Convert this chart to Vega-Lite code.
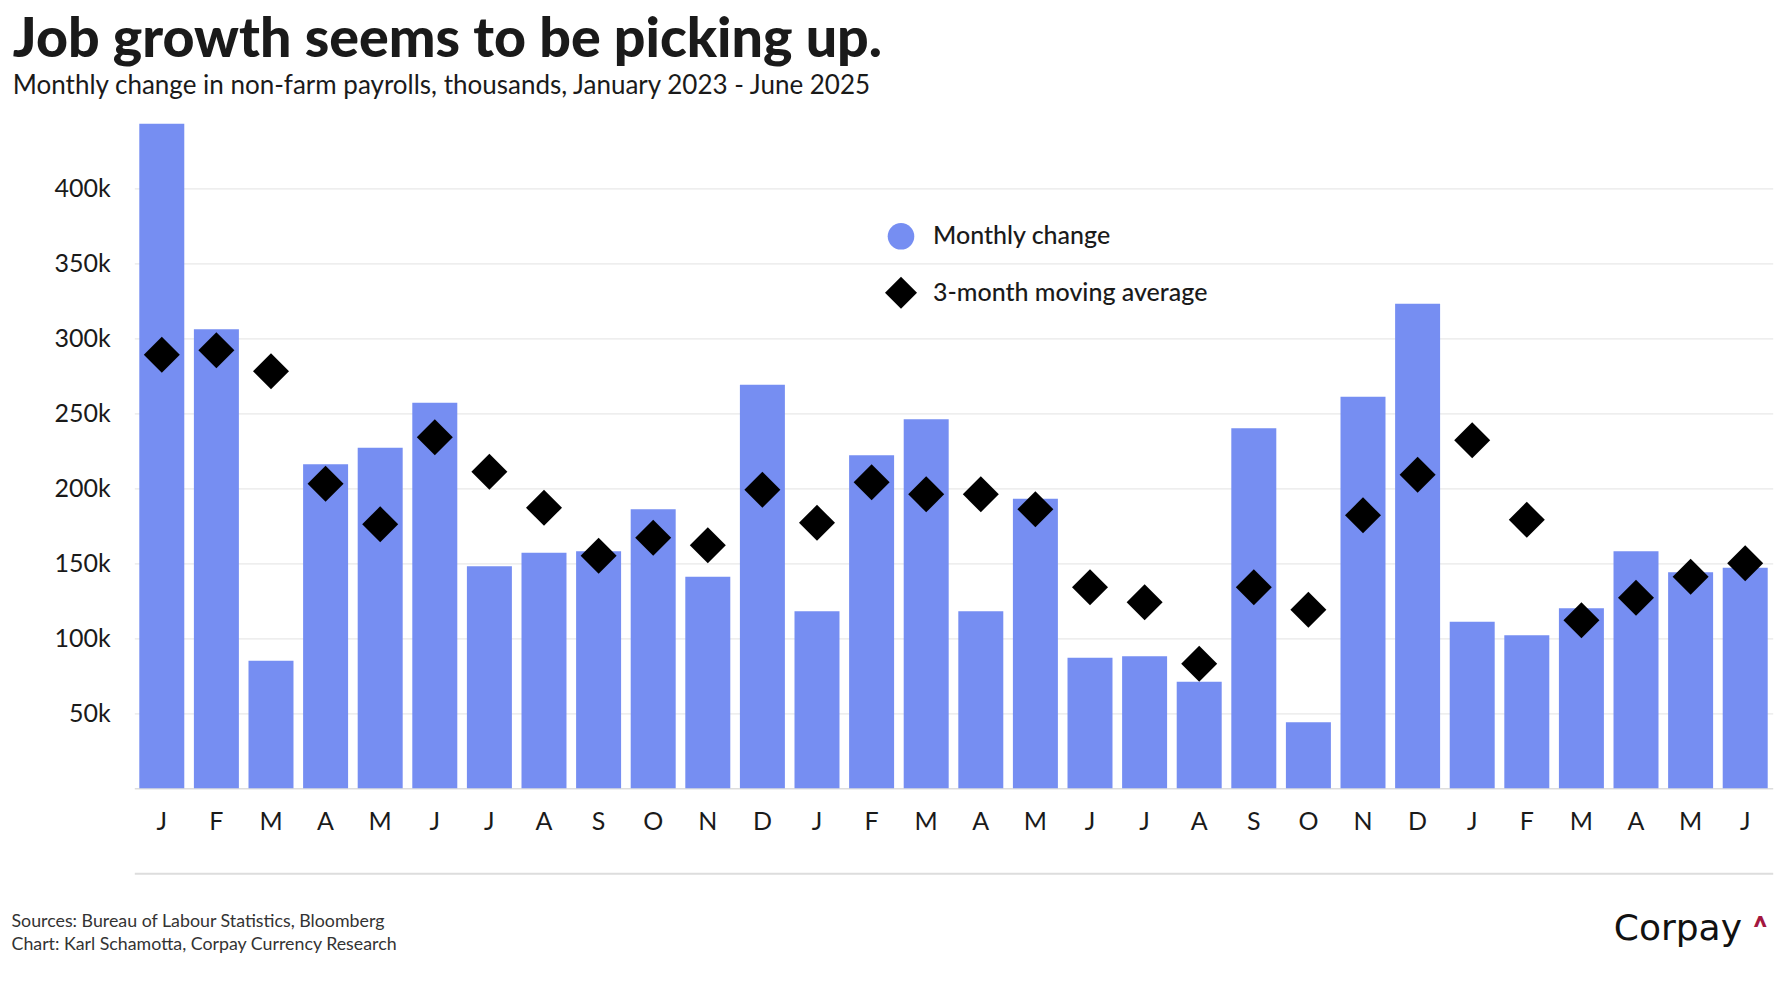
{
  "$schema": "https://vega.github.io/schema/vega-lite/v6.json",
  "autosize": {"type": "none"},
  "width": 1638.4,
  "height": 675,
  "padding": {"left": 134.3, "top": 113.3, "right": 9.3, "bottom": 211.7},
  "background": "white",
  "config": {
    "font": "Lato",
    "view": {"stroke": null},
    "legend": {"padding": 0}
  },
  "title": {
    "text": "Job growth seems to be picking up.",
    "subtitle": "Monthly change in non-farm payrolls, thousands, January 2023 - June 2025",
    "anchor": "start",
    "frame": "group",
    "dx": -121.5,
    "offset": 14,
    "font": "Lato",
    "fontSize": 55.5,
    "fontWeight": 900,
    "color": "#1a1a1a",
    "subtitleFont": "Lato",
    "subtitleFontSize": 26,
    "subtitleColor": "#1a1a1a",
    "subtitlePadding": 5
  },
  "datasets": {
    "bars": [
      {"month": "2023-01", "value": 443, "series": "Monthly change"},
      {"month": "2023-02", "value": 306, "series": "Monthly change"},
      {"month": "2023-03", "value": 85, "series": "Monthly change"},
      {"month": "2023-04", "value": 216, "series": "Monthly change"},
      {"month": "2023-05", "value": 227, "series": "Monthly change"},
      {"month": "2023-06", "value": 257, "series": "Monthly change"},
      {"month": "2023-07", "value": 148, "series": "Monthly change"},
      {"month": "2023-08", "value": 157, "series": "Monthly change"},
      {"month": "2023-09", "value": 158, "series": "Monthly change"},
      {"month": "2023-10", "value": 186, "series": "Monthly change"},
      {"month": "2023-11", "value": 141, "series": "Monthly change"},
      {"month": "2023-12", "value": 269, "series": "Monthly change"},
      {"month": "2024-01", "value": 118, "series": "Monthly change"},
      {"month": "2024-02", "value": 222, "series": "Monthly change"},
      {"month": "2024-03", "value": 246, "series": "Monthly change"},
      {"month": "2024-04", "value": 118, "series": "Monthly change"},
      {"month": "2024-05", "value": 193, "series": "Monthly change"},
      {"month": "2024-06", "value": 87, "series": "Monthly change"},
      {"month": "2024-07", "value": 88, "series": "Monthly change"},
      {"month": "2024-08", "value": 71, "series": "Monthly change"},
      {"month": "2024-09", "value": 240, "series": "Monthly change"},
      {"month": "2024-10", "value": 44, "series": "Monthly change"},
      {"month": "2024-11", "value": 261, "series": "Monthly change"},
      {"month": "2024-12", "value": 323, "series": "Monthly change"},
      {"month": "2025-01", "value": 111, "series": "Monthly change"},
      {"month": "2025-02", "value": 102, "series": "Monthly change"},
      {"month": "2025-03", "value": 120, "series": "Monthly change"},
      {"month": "2025-04", "value": 158, "series": "Monthly change"},
      {"month": "2025-05", "value": 144, "series": "Monthly change"},
      {"month": "2025-06", "value": 147, "series": "Monthly change"}
    ],
    "avg": [
      {"month": "2023-01", "value": 289, "series": "3-month moving average"},
      {"month": "2023-02", "value": 292, "series": "3-month moving average"},
      {"month": "2023-03", "value": 278, "series": "3-month moving average"},
      {"month": "2023-04", "value": 203, "series": "3-month moving average"},
      {"month": "2023-05", "value": 176, "series": "3-month moving average"},
      {"month": "2023-06", "value": 234, "series": "3-month moving average"},
      {"month": "2023-07", "value": 211, "series": "3-month moving average"},
      {"month": "2023-08", "value": 187, "series": "3-month moving average"},
      {"month": "2023-09", "value": 155, "series": "3-month moving average"},
      {"month": "2023-10", "value": 167, "series": "3-month moving average"},
      {"month": "2023-11", "value": 162, "series": "3-month moving average"},
      {"month": "2023-12", "value": 199, "series": "3-month moving average"},
      {"month": "2024-01", "value": 177, "series": "3-month moving average"},
      {"month": "2024-02", "value": 204, "series": "3-month moving average"},
      {"month": "2024-03", "value": 196, "series": "3-month moving average"},
      {"month": "2024-04", "value": 196, "series": "3-month moving average"},
      {"month": "2024-05", "value": 186, "series": "3-month moving average"},
      {"month": "2024-06", "value": 134, "series": "3-month moving average"},
      {"month": "2024-07", "value": 124, "series": "3-month moving average"},
      {"month": "2024-08", "value": 83, "series": "3-month moving average"},
      {"month": "2024-09", "value": 134, "series": "3-month moving average"},
      {"month": "2024-10", "value": 119, "series": "3-month moving average"},
      {"month": "2024-11", "value": 182, "series": "3-month moving average"},
      {"month": "2024-12", "value": 209, "series": "3-month moving average"},
      {"month": "2025-01", "value": 232, "series": "3-month moving average"},
      {"month": "2025-02", "value": 179, "series": "3-month moving average"},
      {"month": "2025-03", "value": 112, "series": "3-month moving average"},
      {"month": "2025-04", "value": 127, "series": "3-month moving average"},
      {"month": "2025-05", "value": 141, "series": "3-month moving average"},
      {"month": "2025-06", "value": 150, "series": "3-month moving average"}
    ]
  },
  "resolve": {"axis": {"x": "independent", "y": "independent"}},
  "layer": [
    {
      "data": {"name": "bars"},
      "mark": {"type": "bar"},
      "encoding": {
        "x": {
          "field": "month", "type": "ordinal",
          "scale": {"paddingInner": 0.176, "paddingOuter": 0.0915},
          "axis": {
            "orient": "bottom",
            "labelExpr": "substring('JFMAMJJASOND', toNumber(slice(datum.value, 5)) - 1, toNumber(slice(datum.value, 5)))",
            "labelAngle": 0,
            "labelFont": "Lato",
            "labelFontSize": 25,
            "labelColor": "#1a1a1a",
            "labelPadding": 21,
            "ticks": false,
            "domain": true,
            "domainColor": "#dddddd",
            "domainWidth": 1.5,
            "grid": false,
            "title": null
          }
        },
        "y": {
          "field": "value", "type": "quantitative",
          "scale": {"domain": [0, 450], "nice": false},
          "axis": {
            "values": [50, 100, 150, 200, 250, 300, 350, 400],
            "labelExpr": "datum.value + 'k'",
            "labelFont": "Lato",
            "labelFontSize": 25,
            "labelColor": "#1a1a1a",
            "labelPadding": 24,
            "ticks": false,
            "domain": false,
            "grid": true,
            "gridColor": "#e8e8e8",
            "gridWidth": 1.2,
            "title": "Corpay",
            "titleAngle": 0,
            "titleAlign": "left",
            "titleBaseline": "alphabetic",
            "titleX": 1479,
            "titleY": 826,
            "titleFont": "DejaVu Sans",
            "titleFontSize": 36,
            "titleFontWeight": "normal",
            "titleColor": "#111111"
          }
        },
        "color": {
          "field": "series", "type": "nominal",
          "scale": {"domain": ["Monthly change", "3-month moving average"], "range": ["#768ef2", "#000000"]},
          "legend": {
            "title": null,
            "orient": "none",
            "legendX": 750.7,
            "legendY": 107,
            "symbolSize": 1024,
            "labelFont": "Lato",
            "labelFontSize": 25,
            "labelFontWeight": 500,
            "labelColor": "#1a1a1a",
            "labelOffset": 16,
            "labelLimit": 0,
            "rowPadding": 26.5,
            "symbolStrokeWidth": 0,
            "encode": {"symbols": {"update": {"size": {"signal": "datum.value === 'Monthly change' ? 707 : 1024"}}}}
          }
        }
      }
    },
    {
      "data": {"name": "avg"},
      "mark": {"type": "point", "filled": true, "size": 1296, "opacity": 1, "strokeWidth": 0},
      "encoding": {
        "x": {
          "field": "month", "type": "ordinal",
          "axis": {
            "orient": "bottom",
            "offset": 85,
            "labels": false,
            "ticks": false,
            "grid": false,
            "domain": true,
            "domainColor": "#dddddd",
            "domainWidth": 2,
            "title": ["Sources: Bureau of Labour Statistics, Bloomberg", "Chart: Karl Schamotta, Corpay Currency Research"],
            "titleAnchor": "start",
            "titleAlign": "left",
            "titleBaseline": "alphabetic",
            "titleX": -123.3,
            "titleY": 53,
            "titleLineHeight": 23.5,
            "titleFont": "Lato",
            "titleFontSize": 17.8,
            "titleFontWeight": "normal",
            "titleColor": "#333333"
          }
        },
        "y": {
          "field": "value", "type": "quantitative",
          "axis": {
            "orient": "right",
            "labels": false,
            "ticks": false,
            "grid": false,
            "domain": false,
            "title": "^",
            "titleAngle": 0,
            "titleAlign": "left",
            "titleBaseline": "alphabetic",
            "titleX": -20,
            "titleY": 824,
            "titleFont": "Roboto",
            "titleFontSize": 32,
            "titleFontWeight": "bold",
            "titleColor": "#a3173f"
          }
        },
        "color": {
          "field": "series", "type": "nominal",
          "scale": {"domain": ["Monthly change", "3-month moving average"], "range": ["#768ef2", "#000000"]}
        },
        "shape": {
          "field": "series", "type": "nominal",
          "scale": {"domain": ["Monthly change", "3-month moving average"], "range": ["circle", "diamond"]},
          "legend": {
            "title": null,
            "orient": "none",
            "legendX": 750.7,
            "legendY": 107,
            "symbolSize": 1024,
            "labelFont": "Lato",
            "labelFontSize": 25,
            "labelFontWeight": 500,
            "labelColor": "#1a1a1a",
            "labelOffset": 16,
            "labelLimit": 0,
            "rowPadding": 26.5,
            "symbolStrokeWidth": 0,
            "encode": {"symbols": {"update": {"size": {"signal": "datum.value === 'Monthly change' ? 707 : 1024"}}}}
          }
        }
      }
    }
  ]
}
